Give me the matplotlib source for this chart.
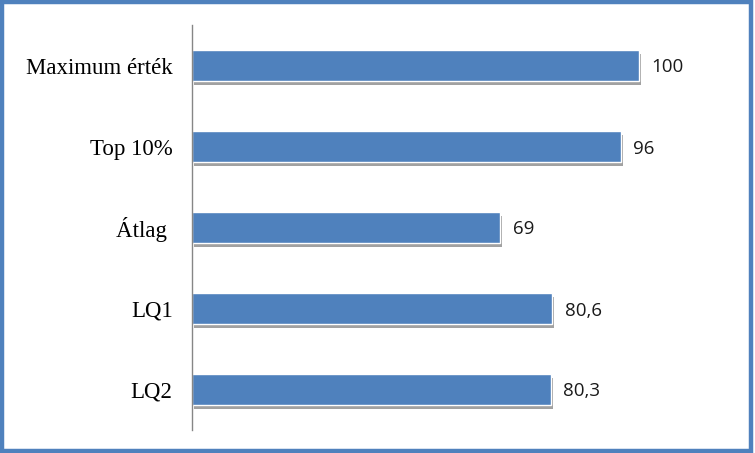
import matplotlib
matplotlib.use("Agg")
import matplotlib.pyplot as plt
import matplotlib.patheffects as pe
from matplotlib.patches import Rectangle

categories = ["Maximum érték", "Top 10%", "Átlag ", "LQ1", "LQ2"]
values = [100, 96, 69, 80.6, 80.3]
value_labels = ["100", "96", "69", "80,6", "80,3"]

blue = "#4F81BD"

fig = plt.figure(figsize=(7.55, 4.53), dpi=100)
ax = fig.add_axes([192 / 755, 23 / 453, 536 / 755, 405 / 453])

ypos = list(range(len(categories)))
bars = ax.barh(ypos, values, height=0.38, color=blue, edgecolor="white", linewidth=1.0)
for b in bars:
    b.set_path_effects([pe.SimplePatchShadow(offset=(1.5, -3), shadow_rgbFace="#555555", alpha=0.55),
                        pe.Normal()])

for y, v, lab in zip(ypos, values, value_labels):
    ax.text(v + 2.8, y, lab, va="center_baseline", ha="left", fontsize=13.5,
            family="Open Sans", color="#1a1a1a")

ax.set_xlim(0, 120)
ax.set_ylim(len(categories) - 0.5, -0.5)
ax.set_yticks(ypos)
ax.set_yticklabels(categories, family="Liberation Serif", fontsize=16.5)
ax.tick_params(axis="y", length=0, pad=14)
ax.set_xticks([])
for s in ["top", "right", "bottom"]:
    ax.spines[s].set_visible(False)
ax.spines["left"].set_color("#868686")
ax.spines["left"].set_linewidth(1.0)

# blue frame around the chart
fig.patches.append(Rectangle((0.002, 0.004), 0.993, 0.992, transform=fig.transFigure,
                             fill=False, edgecolor=blue, linewidth=3.2))

fig.savefig("out.png", dpi=100)
